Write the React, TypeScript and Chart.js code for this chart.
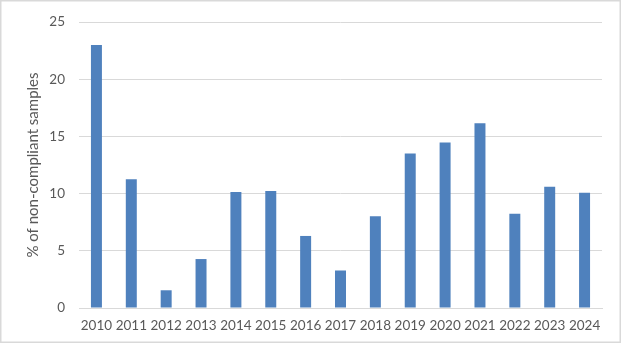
import React, { useEffect, useRef } from "react";
import { Chart, registerables } from "chart.js";

Chart.register(...registerables);

const years = ["2010", "2011", "2012", "2013", "2014", "2015", "2016", "2017", "2018", "2019", "2020", "2021", "2022", "2023", "2024"];
const nonCompliant = [23.0, 11.25, 1.55, 4.28, 10.15, 10.22, 6.3, 3.28, 8.02, 13.5, 14.48, 16.15, 8.25, 10.6, 10.08];
const yTicks = [0, 5, 10, 15, 20, 25];
const yTitle = "% of non-compliant samples";

const FONT = "Lato, 'Open Sans', sans-serif";
const GRID = "#d9d9d9";
const TEXT = "#595959";

const frame = {
  id: "frame",
  afterDraw(chart: any) {
    const ctx = chart.ctx;
    ctx.save();
    ctx.strokeStyle = GRID;
    ctx.lineWidth = 1.5;
    ctx.strokeRect(0.75, 0.75, 619.5, 341.5);
    ctx.restore();
  },
};

export default function App() {
  const ref = useRef<HTMLCanvasElement | null>(null);
  useEffect(() => {
    if (!ref.current) return;
    const chart = new Chart(ref.current, {
      type: "bar",
      data: {
        labels: years,
        datasets: [
          {
            data: nonCompliant,
            backgroundColor: "#4f81bd",
            categoryPercentage: 1,
            barPercentage: 0.315,
          },
        ],
      },
      plugins: [frame],
      options: {
        responsive: false,
        animation: false,
        layout: { padding: { top: 18, right: 20, bottom: 0, left: 0 } },
        plugins: { legend: { display: false }, tooltip: { enabled: false } },
        scales: {
          x: {
            grid: { display: false, drawTicks: false },
            border: { display: true, color: GRID, width: 1 },
            ticks: { color: TEXT, font: { family: FONT, size: 13.5 }, padding: 10, maxRotation: 0, autoSkip: false },
            afterFit: (s: any) => { s.height = 38; },
          },
          y: {
            min: 0,
            max: 25,
            afterBuildTicks: (s: any) => { s.ticks = yTicks.map((v) => ({ value: v })); },
            grid: { color: GRID, lineWidth: 1, drawTicks: false },
            border: { display: false },
            ticks: { color: TEXT, font: { family: FONT, size: 13.5 }, padding: 14 },
            title: {
              display: true,
              text: yTitle,
              color: TEXT,
              font: { family: FONT, size: 15 },
              padding: { top: 24, bottom: 0 },
            },
            afterFit: (s: any) => { s.width = 79; },
          },
        },
      },
    });
    return () => chart.destroy();
  }, []);
  return (
    <div style={{ position: "absolute", left: 0, top: 0, width: 622, height: 346, background: "#fff" }}>
      <canvas ref={ref} width={622} height={346} style={{ display: "block" }} />
    </div>
  );
}
